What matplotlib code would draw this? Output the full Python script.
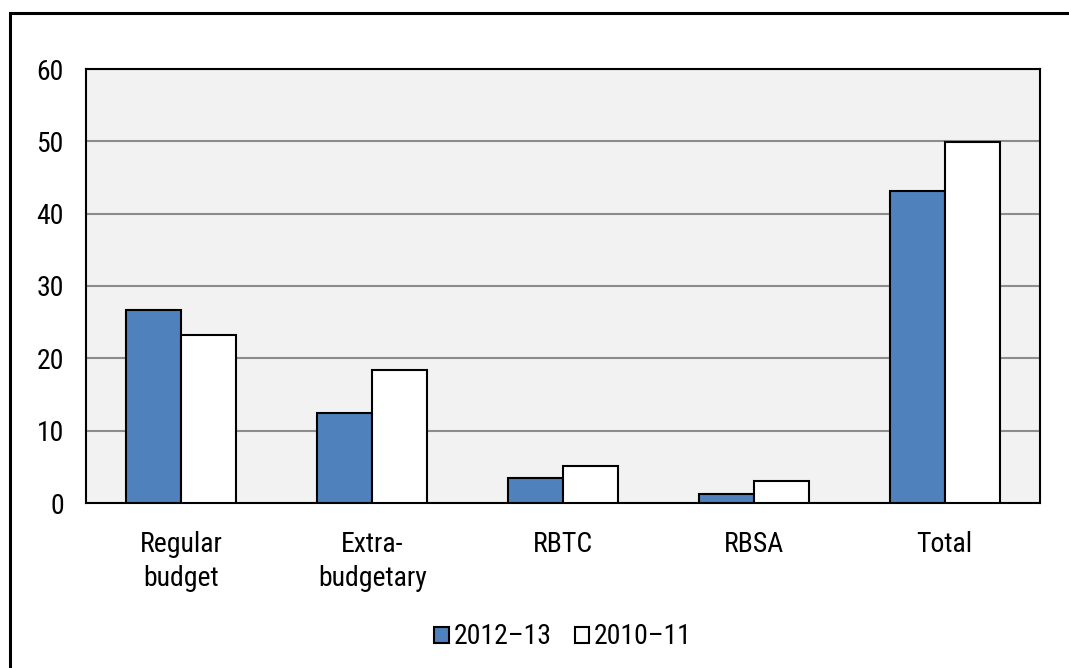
import numpy as np
import matplotlib
matplotlib.use("Agg")
from matplotlib import pyplot as plt
from matplotlib.patches import Rectangle

categories = ["Regular\nbudget", "Extra-\nbudgetary", "RBTC", "RBSA", "Total"]
series_2012_13 = [26.7, 12.4, 3.4, 1.3, 43.2]
series_2010_11 = [23.2, 18.4, 5.1, 3.1, 49.9]
series_labels = ["2012\u201313", "2010\u201311"]
y_ticks = [0, 10, 20, 30, 40, 50, 60]

plt.rcParams["font.family"] = ["Roboto Condensed", "Archivo Narrow", "Liberation Sans", "DejaVu Sans"]
fs = 20

fig = plt.figure(figsize=(10.69, 6.68), dpi=100)
ax = fig.add_axes([86 / 1069, 1 - 503 / 668, (1040 - 86) / 1069, (503 - 69) / 668])

x = np.arange(len(categories))
w = 0.288
ax.bar(x - w / 2, series_2012_13, w, color="#4f81bd", edgecolor="black", linewidth=1.5,
       label=series_labels[0], zorder=3)
ax.bar(x + w / 2, series_2010_11, w, color="white", edgecolor="black", linewidth=1.5,
       label=series_labels[1], zorder=3)

ax.set_facecolor("#f2f2f2")
ax.set_xlim(-0.5, len(categories) - 0.5)
ax.set_ylim(0, 60)
ax.set_yticks(y_ticks)
ax.set_xticks(x)
ax.set_xticklabels(categories, fontsize=fs, linespacing=1.35)
ax.tick_params(axis="y", length=0, pad=16, labelsize=fs)
ax.tick_params(axis="x", length=0, pad=20)
ax.yaxis.grid(True, color="#8c8c8c", linewidth=1.5, zorder=0)
ax.set_axisbelow(True)
for s in ax.spines.values():
    s.set_linewidth(1.5)
    s.set_color("black")

ax.legend(loc="center", bbox_to_anchor=(0.5, (503 - 637) / (503 - 69)), ncol=2, frameon=False,
          fontsize=fs, handlelength=0.52, handleheight=0.52, handletextpad=0.17,
          columnspacing=0.85, borderaxespad=0)

# outer frame, only top and left edges fall inside the image
fig.patches.append(Rectangle((10 / 1069, -0.1), 1.2, 1 - 13 / 668 + 0.1,
                             transform=fig.transFigure, fill=False, edgecolor="black",
                             linewidth=2.2))

fig.savefig("out.png", dpi=100)
